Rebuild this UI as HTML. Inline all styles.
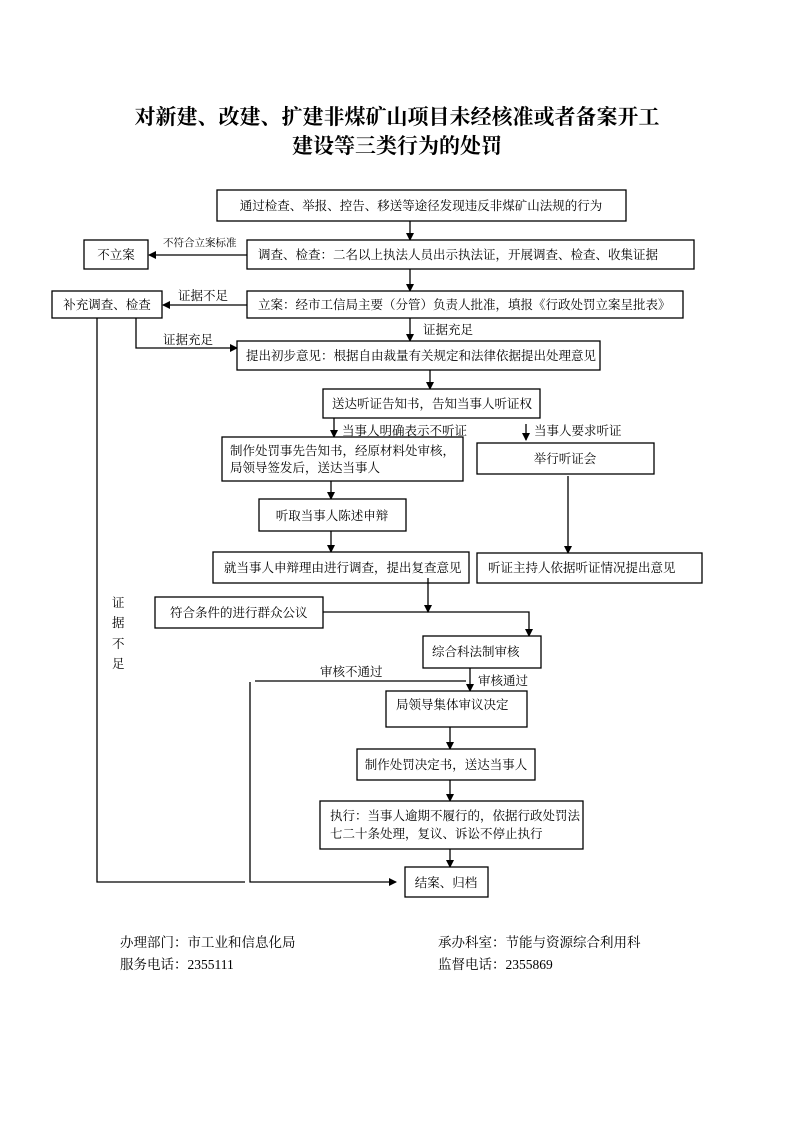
<!DOCTYPE html>
<html><head><meta charset="utf-8"><style>
html,body{margin:0;padding:0;background:#fff;}
svg{display:block;}
text{font-family:"Liberation Serif","Noto Serif CJK SC","Noto Sans CJK SC",serif;fill:#000;}
.t{font-size:12.5px;}
.s{font-size:10.5px;}
rect{fill:#fff;stroke:#000;stroke-width:1.3;}
line,polyline{stroke:#000;stroke-width:1.3;fill:none;}
</style></head><body>
<svg width="793" height="1122" viewBox="0 0 793 1122" xmlns="http://www.w3.org/2000/svg">
<defs><marker id="a" markerWidth="8" markerHeight="8" refX="7" refY="4" orient="auto" markerUnits="userSpaceOnUse"><path d="M0,0 L8,4 L0,8 z" fill="#000"/></marker></defs>
<text x="397" y="124" text-anchor="middle" style="font-size:21px;font-weight:bold">对新建、改建、扩建非煤矿山项目未经核准或者备案开工</text>
<text x="397" y="153" text-anchor="middle" style="font-size:21px;font-weight:bold">建设等三类行为的处罚</text>

<rect x="217" y="190" width="409" height="31"/>
<text class="t" x="421" y="210" text-anchor="middle">通过检查、举报、控告、移送等途径发现违反非煤矿山法规的行为</text>
<line x1="410" y1="221" x2="410" y2="240" marker-end="url(#a)"/>

<rect x="247" y="240" width="447" height="29"/>
<text class="t" x="258" y="259">调查、检查：二名以上执法人员出示执法证，开展调查、检查、收集证据</text>
<rect x="84" y="240" width="64" height="29"/>
<text class="t" x="116" y="259" text-anchor="middle">不立案</text>
<line x1="247" y1="255" x2="149" y2="255" marker-end="url(#a)"/>
<text class="s" x="163" y="246">不符合立案标准</text>
<line x1="410" y1="269" x2="410" y2="291" marker-end="url(#a)"/>

<rect x="247" y="291" width="436" height="27"/>
<text class="t" x="258" y="309">立案：经市工信局主要（分管）负责人批准，填报《行政处罚立案呈批表》</text>
<rect x="52" y="291" width="110" height="27"/>
<text class="t" x="107" y="309" text-anchor="middle">补充调查、检查</text>
<line x1="247" y1="305" x2="163" y2="305" marker-end="url(#a)"/>
<text class="t" x="178" y="300">证据不足</text>
<line x1="410" y1="318" x2="410" y2="341" marker-end="url(#a)"/>
<text class="t" x="423" y="334">证据充足</text>
<polyline points="136,318 136,348 237,348" marker-end="url(#a)"/>
<text class="t" x="163" y="344">证据充足</text>
<polyline points="97,318 97,882 245,882"/>

<rect x="237" y="341" width="363" height="29"/>
<text class="t" x="246" y="360">提出初步意见：根据自由裁量有关规定和法律依据提出处理意见</text>
<line x1="430" y1="370" x2="430" y2="389" marker-end="url(#a)"/>

<rect x="323" y="389" width="217" height="29"/>
<text class="t" x="332" y="408">送达听证告知书，告知当事人听证权</text>
<line x1="334" y1="418" x2="334" y2="437" marker-end="url(#a)"/>
<text class="t" x="342" y="435">当事人明确表示不听证</text>
<line x1="526" y1="424" x2="526" y2="440" marker-end="url(#a)"/>
<text class="t" x="534" y="435">当事人要求听证</text>

<rect x="222" y="437" width="241" height="44"/>
<text class="t" x="230" y="455">制作处罚事先告知书，经原材料处审核，</text>
<text class="t" x="230" y="472">局领导签发后，送达当事人</text>
<rect x="477" y="443" width="177" height="31"/>
<text class="t" x="565" y="463" text-anchor="middle">举行听证会</text>
<line x1="331" y1="481" x2="331" y2="499" marker-end="url(#a)"/>
<line x1="568" y1="476" x2="568" y2="553" marker-end="url(#a)"/>

<rect x="259" y="499" width="147" height="32"/>
<text class="t" x="332" y="520" text-anchor="middle">听取当事人陈述申辩</text>
<line x1="331" y1="531" x2="331" y2="552" marker-end="url(#a)"/>

<rect x="213" y="552" width="256" height="31"/>
<text class="t" x="224" y="572">就当事人申辩理由进行调查，提出复查意见</text>
<rect x="477" y="553" width="225" height="30"/>
<text class="t" x="488" y="572">听证主持人依据听证情况提出意见</text>
<line x1="428" y1="578" x2="428" y2="612" marker-end="url(#a)"/>

<rect x="155" y="597" width="168" height="31"/>
<text class="t" x="170" y="617">符合条件的进行群众公议</text>
<polyline points="323,612 529,612 529,636" marker-end="url(#a)"/>

<text class="t" x="112" y="607">证</text>
<text class="t" x="112" y="627">据</text>
<text class="t" x="112" y="648">不</text>
<text class="t" x="112" y="668">足</text>

<rect x="423" y="636" width="118" height="32"/>
<text class="t" x="432" y="656">综合科法制审核</text>
<line x1="470" y1="668" x2="470" y2="691" marker-end="url(#a)"/>
<text class="t" x="478" y="685">审核通过</text>
<line x1="255" y1="681" x2="466" y2="681"/>
<text class="t" x="320" y="676">审核不通过</text>
<polyline points="250,682 250,882 396,882" marker-end="url(#a)"/>

<rect x="386" y="691" width="141" height="36"/>
<text class="t" x="396" y="709">局领导集体审议决定</text>
<line x1="450" y1="727" x2="450" y2="749" marker-end="url(#a)"/>

<rect x="357" y="749" width="178" height="31"/>
<text class="t" x="446" y="769" text-anchor="middle">制作处罚决定书，送达当事人</text>
<line x1="450" y1="780" x2="450" y2="801" marker-end="url(#a)"/>

<rect x="320" y="801" width="263" height="48"/>
<text class="t" x="330" y="820">执行：当事人逾期不履行的，依据行政处罚法</text>
<text class="t" x="330" y="838">七二十条处理，复议、诉讼不停止执行</text>
<line x1="450" y1="849" x2="450" y2="867" marker-end="url(#a)"/>

<rect x="405" y="867" width="83" height="30"/>
<text class="t" x="446" y="887" text-anchor="middle">结案、归档</text>

<text x="120" y="947" style="font-size:13.5px">办理部门：市工业和信息化局</text>
<text x="438" y="947" style="font-size:13.5px">承办科室：节能与资源综合利用科</text>
<text x="120" y="969" style="font-size:13.5px">服务电话：2355111</text>
<text x="438" y="969" style="font-size:13.5px">监督电话：2355869</text>
</svg>
</body></html>
